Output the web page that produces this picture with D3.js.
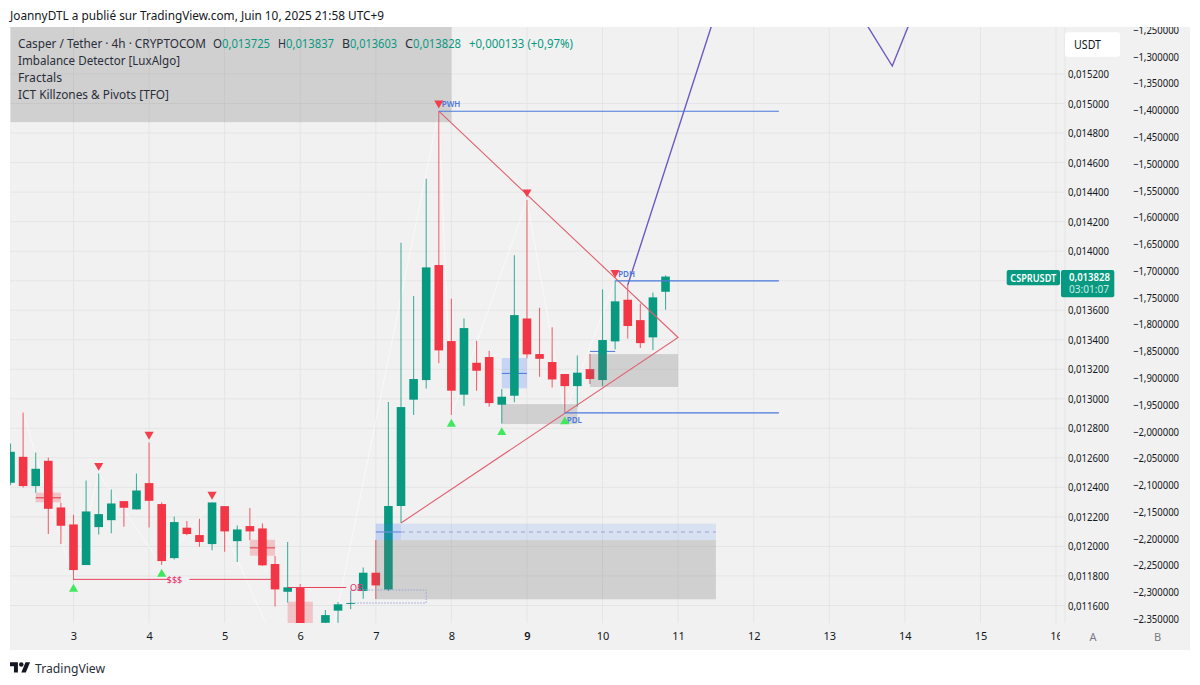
<!DOCTYPE html>
<html>
<head>
<meta charset="utf-8">
<title>CSPRUSDT 4h</title>
<script src="https://cdn.jsdelivr.net/npm/d3@7"></script>
<style>
  html, body { margin: 0; padding: 0; background: #fff; }
  svg { display: block; }
  text { font-family: "Noto Sans", "Open Sans", sans-serif; }
</style>
</head>
<body>
<div id="app"></div>
<script>
// first bar (index 0) is the one cut by the left edge, day 3 falls on bar 5
// prices in 1e-6 USDT, null = bar that sits under the visible range
const opens  = [12431,12607,12409,12580,12264,12149,11874,12131,12178,12307,12251,12429,12287,11921,12127,12077,12016,12273,12036,12138,12122,11881,11693,11723,null,11483,11565,11612,11698,11822,11708,12274,12994,13127,13906,13391,13028,13244,13283,12960,13021,13544,13303,13249,13168,13086,13201,13127,13389,13671,13533,13416,13725];
const highs  = [12698,12907,12637,12603,12296,12215,12447,12494,12386,12307,12494,12704,12300,12203,12172,12188,12298,12273,12142,12260,12156,11935,12030,11745,null,11569,11623,11700,11858,12043,12978,14057,13696,14490,14948,13678,13544,13393,13326,13066,13973,14346,13617,13484,13168,13294,13303,13741,13800,13770,13646,13720,13837];
const lows   = [12415,12400,12364,12084,12016,11772,11874,12081,12090,12133,12251,12129,11874,11912,12075,11998,11975,11964,11894,12043,11867,11594,11621,11420,null,11470,11483,11574,11646,11644,11698,12159,12890,13070,13240,12890,12953,13055,12946,12833,12976,13274,13150,13077,12906,12946,13100,13086,13335,13409,13344,13330,13603];
const closes = [12641,12409,12526,12255,12140,11840,12237,12219,12291,12262,12379,12309,11901,12165,12084,12030,12298,12102,12115,12102,11872,11709,11723,11440,null,11535,11608,11617,11822,11736,12274,12944,13134,13890,13328,13055,13479,13190,12971,13014,13567,13301,13271,13131,13086,13177,13134,13398,13660,13493,13377,13687,13828];

const dayLabels = [3,4,5,6,7,8,9,10,11,12,13,14,15,16];
const priceTicks = [15200,15000,14800,14600,14400,14200,14000,13600,13400,13200,13000,12800,12600,12400,12200,12000,11800,11600];
const gridTicks = [15200,15000,14800,14600,14400,14200,14000,13800,13600,13400,13200,13000,12800,12600,12400,12200,12000,11800,11600];
const otherTicks = [-1.25,-1.3,-1.35,-1.4,-1.45,-1.5,-1.55,-1.6,-1.65,-1.7,-1.75,-1.8,-1.85,-1.9,-1.95,-2,-2.05,-2.1,-2.15,-2.2,-2.25,-2.3,-2.35];

// fractal markers
const fractalHighBars = [7,11,16,34,41,48];
const fractalLowBars = [5,12,35,39,44];

// thin white zigzag through the fractals
const zigzagBars = [1,5,7,12,16,24,34,35,41,44,48];
const zigzagPrices = [12907,11772,12494,11874,12298,10757,14948,12890,14346,12906,13800];

// purple projection
const projBars = [49,59.9,70,73.7];
const projPrices = [13770,16648,15254,16038];

// triangle drawn on the chart
const triBars = [34,53,31];
const triPrices = [14948,13415,12159];

// zones: bar from, bar to, price top, price bottom
const greyZones = [[29,56,12043,11642],[39,45,12964,12829],[46,53,13303,13080],[0,35,16000,14874]];
const blueZones = [[29,56,12154,12043],[29,31,12154,12043],[39,41,13276,13071]];
const pinkZones = [[2,4,12364,12299],[19,21,12045,11937],[22,24,11626,11481]];
// line segments: bar from, bar to, price
const pinkMids = [[2,4,12330],[19,21,11991]];
const blueMids = [[29,31,12098],[39,41,13172],[46,48,13321]];
const keyLevels = [[34,61,14948],[48,61,13799],[44,61,12905]];
const keyNames = ["PWH","PDH","PDL"];
const redLevels = [[5,12.6,11777],[14.2,21,11777],[22,26.65,11722]];

const W = 1200, H = 685;
const left = 10, right = 1065, top0 = 27, bottom = 623, panelR = 1190, panelB = 650;
const green = "#089981", red = "#f23645", levelBlue = "#4a78dc", tagPink = "#e91e63";

const x = d3.scaleLinear().domain([5, 83]).range([73.5, 1056]);
const y = d3.scaleLinear().domain([11600, 15200]).range([605.5, 74]);
const yB = d3.scaleLinear().domain([-1.25, -2.35]).range([29.9, 619]);

const svg = d3.select("#app").append("svg").attr("width", W).attr("height", H);

svg.append("rect").attr("x", left).attr("y", top0).attr("width", panelR - left).attr("height", panelB - top0).attr("fill", "#f1f1f1");

const defs = svg.append("defs");
defs.append("clipPath").attr("id", "plot").append("rect").attr("x", left).attr("y", top0).attr("width", right - left).attr("height", bottom - top0);
defs.append("clipPath").attr("id", "axisclip").append("rect").attr("x", right).attr("y", top0).attr("width", panelR - right).attr("height", bottom - top0);
defs.append("clipPath").attr("id", "dayclip").append("rect").attr("x", left).attr("y", bottom).attr("width", 1060 - left).attr("height", panelB - bottom);

// grid
const grid = svg.append("g").attr("stroke", "#e5e5e5").attr("stroke-width", 1);
grid.selectAll(".h").data(gridTicks).join("line").attr("class", "h")
  .attr("x1", left).attr("x2", right).attr("y1", d => y(d)).attr("y2", d => y(d));
grid.selectAll(".v").data(dayLabels).join("line").attr("class", "v")
  .attr("x1", d => x(5 + (d - 3) * 6)).attr("x2", d => x(5 + (d - 3) * 6)).attr("y1", top0).attr("y2", bottom);
svg.append("line").attr("x1", right).attr("x2", right).attr("y1", top0).attr("y2", bottom).attr("stroke", "#e5e5e5");

const plot = svg.append("g").attr("clip-path", "url(#plot)");

function zones(list, fill) {
  plot.append("g").selectAll("rect").data(list).join("rect")
    .attr("x", d => x(d[0])).attr("width", d => x(d[1]) - x(d[0]))
    .attr("y", d => y(d[2])).attr("height", d => y(d[3]) - y(d[2]))
    .attr("fill", fill);
}
function segments(list, color, width, dash) {
  plot.append("g").selectAll("line").data(list).join("line")
    .attr("x1", d => x(d[0])).attr("x2", d => x(d[1]))
    .attr("y1", d => y(d[2])).attr("y2", d => y(d[2]))
    .attr("stroke", color).attr("stroke-width", width)
    .attr("stroke-dasharray", dash || null);
}

zones(pinkZones, "rgba(242,54,69,0.24)");
segments(pinkMids, "rgba(224,70,80,0.8)", 1.4);
zones([blueZones[2]], "rgba(41,98,255,0.2)");
segments([blueMids[1], blueMids[2]], levelBlue, 1);

// zigzag
const zigLine = d3.line().x(d => x(d[0])).y(d => y(d[1]));
plot.append("path").datum(zigzagBars.map((b, i) => [b, zigzagPrices[i]]))
  .attr("d", zigLine).attr("fill", "none").attr("stroke", "#fff").attr("stroke-width", 1).attr("opacity", 0.55);

// candles
const bars = opens.map((o, i) => ({ i, o, h: highs[i], l: lows[i], c: closes[i] })).filter(d => d.o !== null);
const candle = plot.append("g").selectAll("g").data(bars).join("g")
  .attr("fill", d => d.c >= d.o ? green : red).attr("stroke", d => d.c >= d.o ? green : red);
candle.append("line").attr("x1", d => x(d.i)).attr("x2", d => x(d.i)).attr("y1", d => y(d.h)).attr("y2", d => y(d.l)).attr("stroke-width", 1.1).attr("stroke-opacity", 0.75);
candle.append("rect").attr("x", d => x(d.i) - 4.3).attr("width", 8.6)
  .attr("y", d => y(Math.max(d.o, d.c))).attr("height", d => Math.max(1, Math.abs(y(d.o) - y(d.c)))).attr("stroke", "none");

// zones that lie over the candles
zones(greyZones, "rgba(110,110,110,0.25)");
zones([blueZones[0]], "rgba(66,133,244,0.15)");
zones([blueZones[1]], "rgba(41,98,255,0.1)");
segments([blueMids[0]], "#6f8fe0", 1.2);
segments([[31, 56, 12098]], "#9aa5c8", 1, "4,4");
plot.append("rect").attr("x", x(27)).attr("width", x(33) - x(27)).attr("y", y(11705)).attr("height", y(11617) - y(11705))
  .attr("fill", "none").attr("stroke", "#9aa5d0").attr("stroke-dasharray", "1.5,1.5");

// triangle and projection
plot.append("path").datum(triBars.map((b, i) => [b, triPrices[i]]))
  .attr("d", zigLine).attr("fill", "none").attr("stroke", "#e0606f").attr("stroke-width", 1.1);
plot.append("path").datum(projBars.map((b, i) => [b, projPrices[i]]))
  .attr("d", zigLine).attr("fill", "none").attr("stroke", "#6f58c0").attr("stroke-width", 1.4);

// session levels
segments(keyLevels, levelBlue, 1.1);
plot.append("g").selectAll("text").data(keyLevels).join("text")
  .attr("x", d => x(d[0]) + (keyNames[keyLevels.indexOf(d)] === "PDL" ? 2 : 3))
  .attr("y", d => y(d[2]) + (keyNames[keyLevels.indexOf(d)] === "PDL" ? 10 : -4))
  .text((d, i) => keyNames[i]).attr("font-size", 8).attr("font-weight", 600).attr("fill", levelBlue);

segments(redLevels, "#e8405a", 1);
plot.append("text").attr("x", 174.5).attr("y", y(11777)).attr("dy", "0.35em").attr("text-anchor", "middle")
  .text("$$$").attr("font-size", 9).attr("fill", tagPink);
plot.append("text").attr("x", 350).attr("y", y(11722)).attr("dy", "0.35em")
  .text("OB").attr("font-size", 9).attr("fill", tagPink);

// fractal markers
const tri = d3.symbol().type(d3.symbolTriangle).size(36);
plot.append("g").selectAll("path").data(fractalHighBars).join("path")
  .attr("d", tri).attr("fill", "#f23f4b")
  .attr("transform", d => `translate(${x(d)},${y(highs[d]) - 8}) rotate(180)`);
plot.append("g").selectAll("path").data(fractalLowBars).join("path")
  .attr("d", tri).attr("fill", "#3fe85c")
  .attr("transform", d => `translate(${x(d)},${y(lows[d]) + 9})`);

// day axis
const dayAxis = d3.axisBottom(x)
  .tickValues(dayLabels.map(d => 5 + (d - 3) * 6))
  .tickFormat(b => String(3 + (b - 5) / 6)).tickSize(0).tickPadding(0);
const gDay = svg.append("g").attr("clip-path", "url(#dayclip)").append("g").attr("transform", `translate(0,${bottom})`).call(dayAxis);
gDay.select(".domain").remove();
gDay.selectAll("text").attr("y", 9).attr("dy", "0.71em").attr("font-size", 11)
  .attr("fill", "#131722").attr("font-family", null)
  .attr("font-weight", d => d === 5 + 6 * 6 ? 600 : 400);

// price axes
const axisClip = svg.append("g").attr("clip-path", "url(#axisclip)");
const gA = axisClip.append("g").attr("transform", "translate(1068,0)")
  .call(d3.axisRight(y).tickValues(priceTicks).tickSize(0).tickPadding(0)
    .tickFormat(d => "0," + String(d).padStart(6, "0")));
gA.select(".domain").remove();
gA.selectAll("text").attr("font-size", 11).attr("fill", "#131722").attr("font-family", null)
  .attr("textLength", 41).attr("lengthAdjust", "spacingAndGlyphs");

const fmtOther = d => "\u2212" + Math.abs(d).toFixed(6).replace(".", ",");
const gB = axisClip.append("g").attr("transform", "translate(1133,0)")
  .call(d3.axisRight(yB).tickValues(otherTicks).tickSize(0).tickPadding(0).tickFormat(fmtOther));
gB.select(".domain").remove();
gB.selectAll("text").attr("font-size", 11).attr("fill", "#131722").attr("font-family", null)
  .attr("textLength", 46).attr("lengthAdjust", "spacingAndGlyphs");

svg.append("text").attr("x", 1093).attr("y", 640.5).attr("text-anchor", "middle").text("A").attr("font-size", 11).attr("fill", "#787b86");
svg.append("text").attr("x", 1157.7).attr("y", 640.5).attr("text-anchor", "middle").text("B").attr("font-size", 11).attr("fill", "#787b86");

// USDT button
svg.append("rect").attr("x", 1065).attr("y", 32.3).attr("width", 55).attr("height", 24.4).attr("rx", 3).attr("fill", "#fff");
svg.append("text").attr("x", 1074).attr("y", 48.5).text("USDT").attr("font-size", 12).attr("fill", "#131722")
  .attr("textLength", 27).attr("lengthAdjust", "spacingAndGlyphs");

// last price badges
svg.append("rect").attr("x", 1006.7).attr("y", 270).attr("width", 53.3).attr("height", 15.3).attr("rx", 2).attr("fill", green);
svg.append("text").attr("x", 1033.3).attr("y", 281.5).attr("text-anchor", "middle").text("CSPRUSDT")
  .attr("font-size", 10.5).attr("font-weight", 600).attr("fill", "#fff").attr("textLength", 46).attr("lengthAdjust", "spacingAndGlyphs");
svg.append("rect").attr("x", 1061).attr("y", 270).attr("width", 53.3).attr("height", 27.3).attr("rx", 2).attr("fill", green);
svg.append("text").attr("x", 1069).attr("y", 280.5).text("0,013828")
  .attr("font-size", 11).attr("font-weight", 600).attr("fill", "#fff").attr("textLength", 41).attr("lengthAdjust", "spacingAndGlyphs");
svg.append("text").attr("x", 1069).attr("y", 293.3).text("03:01:07")
  .attr("font-size", 11).attr("fill", "#c8ece5").attr("textLength", 40).attr("lengthAdjust", "spacingAndGlyphs");

// header and legend
function label(txt, px, py, w, color) {
  return svg.append("text").attr("x", px).attr("y", py).text(txt).attr("font-size", 12)
    .attr("fill", color || "#2a2e39").attr("textLength", w).attr("lengthAdjust", "spacingAndGlyphs");
}
label("JoannyDTL a publié sur TradingView.com, Juin 10, 2025 21:58 UTC+9", 10, 19.5, 374, "#131722");
label("Casper / Tether · 4h · CRYPTOCOM", 18, 47.5, 188);
label("O", 213, 47.5, 9); label("0,013725", 222, 47.5, 48, green);
label("H", 278, 47.5, 8); label("0,013837", 286, 47.5, 48, green);
label("B", 342, 47.5, 8); label("0,013603", 350, 47.5, 47, green);
label("C", 405, 47.5, 8); label("0,013828", 413, 47.5, 48, green);
label("+0,000133 (+0,97%)", 469, 47.5, 104, green);
label("Imbalance Detector [LuxAlgo]", 18, 64.5, 162);
label("Fractals", 18, 81.5, 44);
label("ICT Killzones & Pivots [TFO]", 18, 98.5, 151);

// footer logo
const logo = svg.append("g").attr("transform", "translate(10,660) scale(0.565)").attr("fill", "#131722");
logo.append("path").attr("d", "M14 22H7V11H0V4h14v18ZM28 22h-8l7.5-18h8L28 22Z");
logo.append("circle").attr("cx", 20).attr("cy", 8).attr("r", 4);
svg.append("text").attr("x", 35).attr("y", 672.5).text("TradingView").attr("font-size", 13).attr("fill", "#2a2e39")
  .attr("textLength", 70).attr("lengthAdjust", "spacingAndGlyphs");
</script>
</body>
</html>
